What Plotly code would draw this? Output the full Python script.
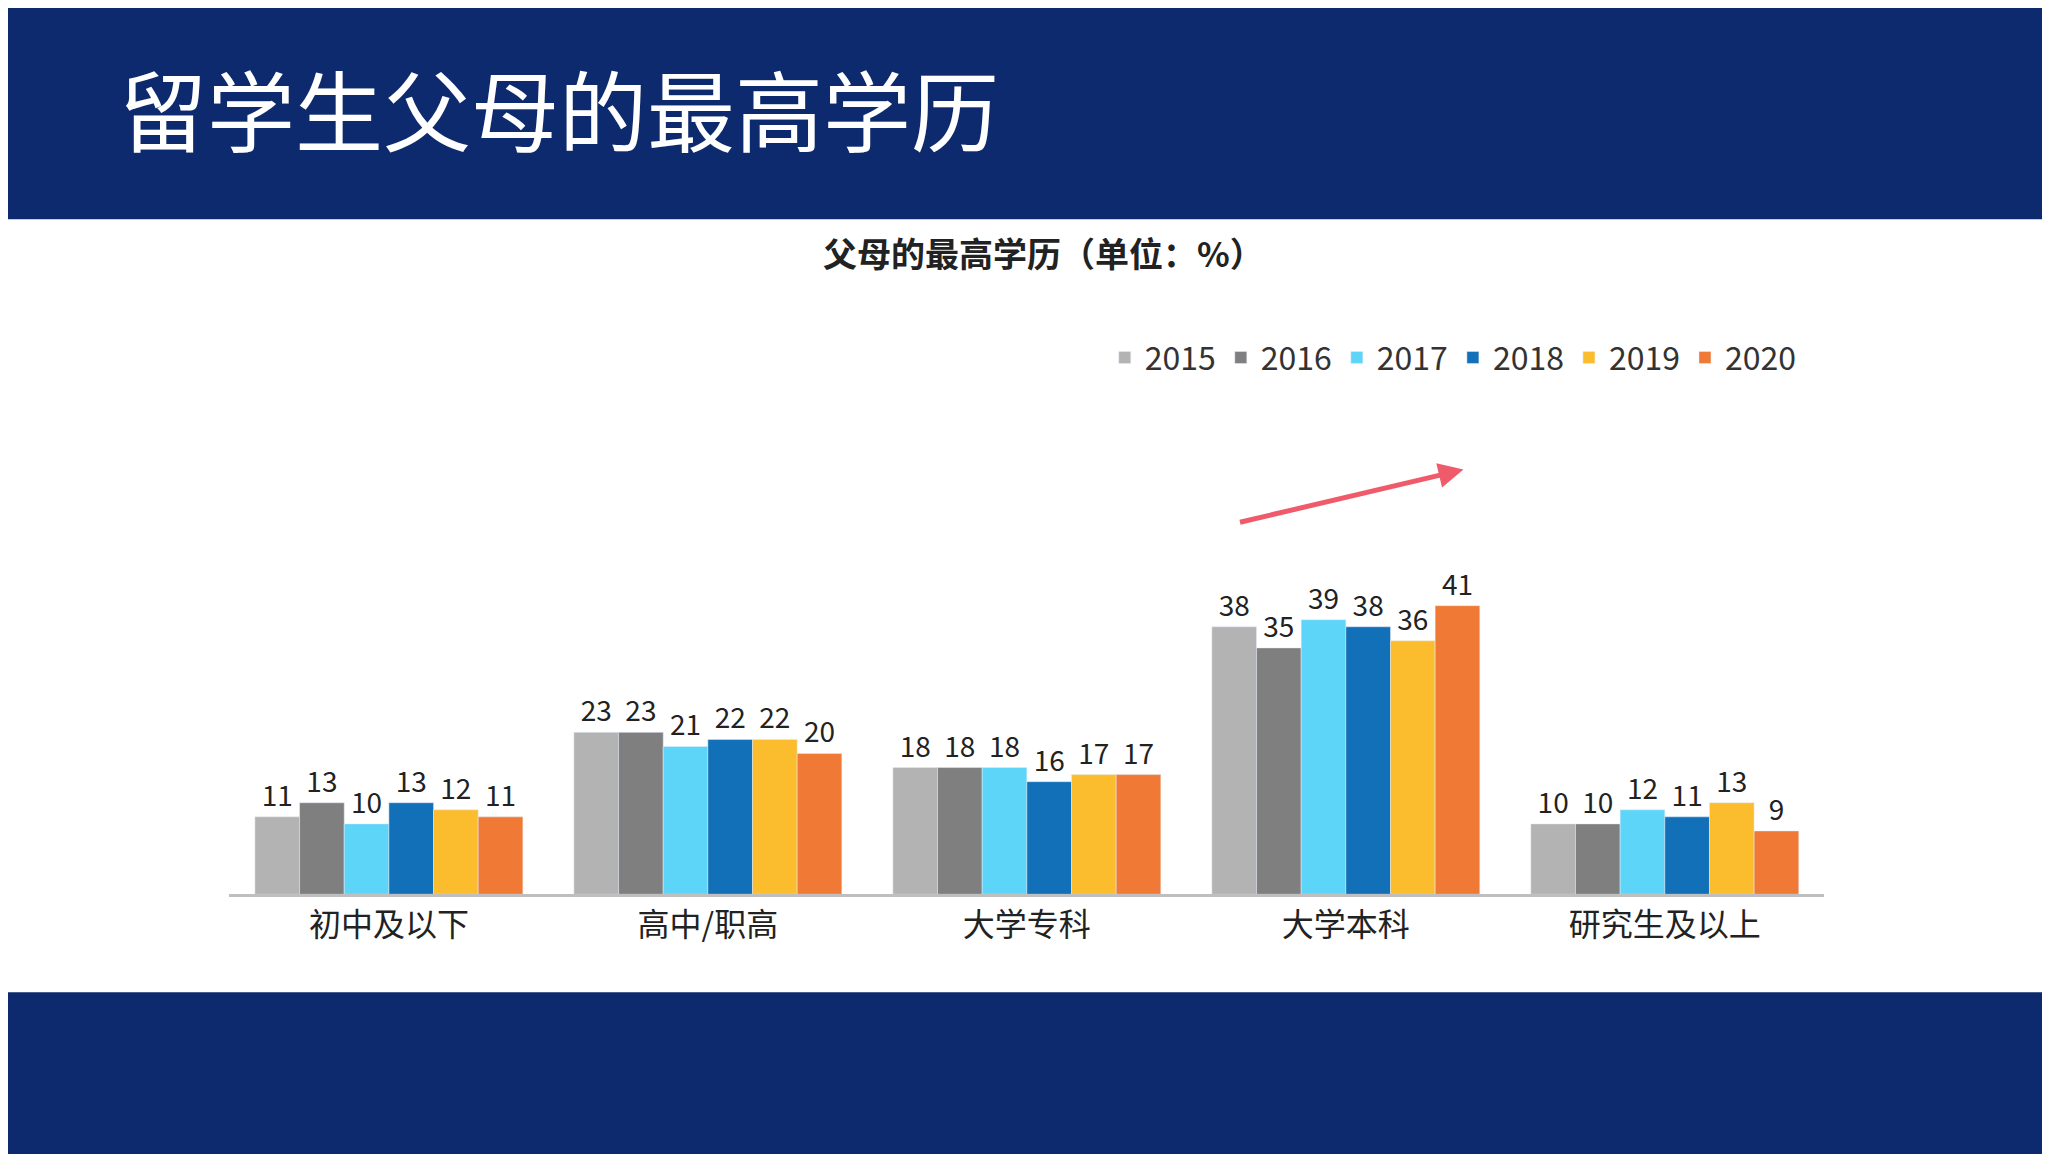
import plotly.graph_objs as go

categories = ['初中及以下', '高中/职高', '大学专科', '大学本科', '研究生及以上']
years = ['2015', '2016', '2017', '2018', '2019', '2020']
v2015 = [11, 23, 18, 38, 10]
v2016 = [13, 23, 18, 35, 10]
v2017 = [10, 21, 18, 39, 12]
v2018 = [13, 22, 16, 38, 11]
v2019 = [12, 22, 17, 36, 13]
v2020 = [11, 20, 17, 41, 9]
series = [v2015, v2016, v2017, v2018, v2019, v2020]
colors = ['#b3b3b3', '#7f7f7f', '#5dd5f9', '#1270b8', '#fbbd2e', '#f07a35']

font = 'Noto Sans CJK SC'
traces = []
for name, vals, c in zip(years, series, colors):
    traces.append(go.Bar(
        x=categories, y=vals, name=name, marker_color=c,
        text=vals, textposition='outside', cliponaxis=False,
        textfont=dict(size=28, color='#222', family=font),
    ))

navy = '#0d2a6e'
layout = go.Layout(
    width=2050, height=1154,
    paper_bgcolor=navy, plot_bgcolor='white',
    margin=dict(l=0, r=0, t=0, b=0),
    barmode='group', bargap=0.16, bargroupgap=0.0,
    font=dict(family=font),
    xaxis=dict(domain=[0.108, 0.886], showline=True, linecolor='#bfbfbf', linewidth=3,
               tickfont=dict(size=32, color='#222'), ticks='', anchor='y'),
    yaxis=dict(domain=[0.232, 0.537], range=[0, 50], visible=False),
    showlegend=True,
    legend=dict(orientation='h', x=0.535, y=0.697, yanchor='middle', xanchor='left',
                font=dict(size=32, color='#333'), bgcolor='rgba(0,0,0,0)',
                itemwidth=30, traceorder='normal'),
    shapes=[
        dict(type='rect', xref='paper', yref='paper', x0=0, x1=1, y0=0.147, y1=0.817,
             fillcolor='white', line_width=0, layer='below'),
        dict(type='rect', xref='paper', yref='paper', x0=0, x1=1, y0=0, y1=0.004,
             fillcolor='white', line_width=0, layer='below'),
    ],
    annotations=[
        dict(text='留学生父母的最高学历', xref='paper', yref='paper', x=0.053, y=0.915,
             xanchor='left', yanchor='middle', showarrow=False,
             font=dict(size=88, color='white', family=font)),
        dict(text='<b>父母的最高学历（单位：%）</b>', xref='paper', yref='paper', x=0.505, y=0.788,
             xanchor='center', yanchor='middle', showarrow=False,
             font=dict(size=34, color='#222', family=font)),
        dict(xref='paper', yref='paper', x=0.71, y=0.6, ax=-225, ay=53,
             text='', showarrow=True, arrowhead=2,
             arrowsize=1, arrowwidth=5, arrowcolor='#ef5b6a'),
    ],
)

fig = go.Figure(data=traces, layout=layout)
fig.write_html('out.html')
